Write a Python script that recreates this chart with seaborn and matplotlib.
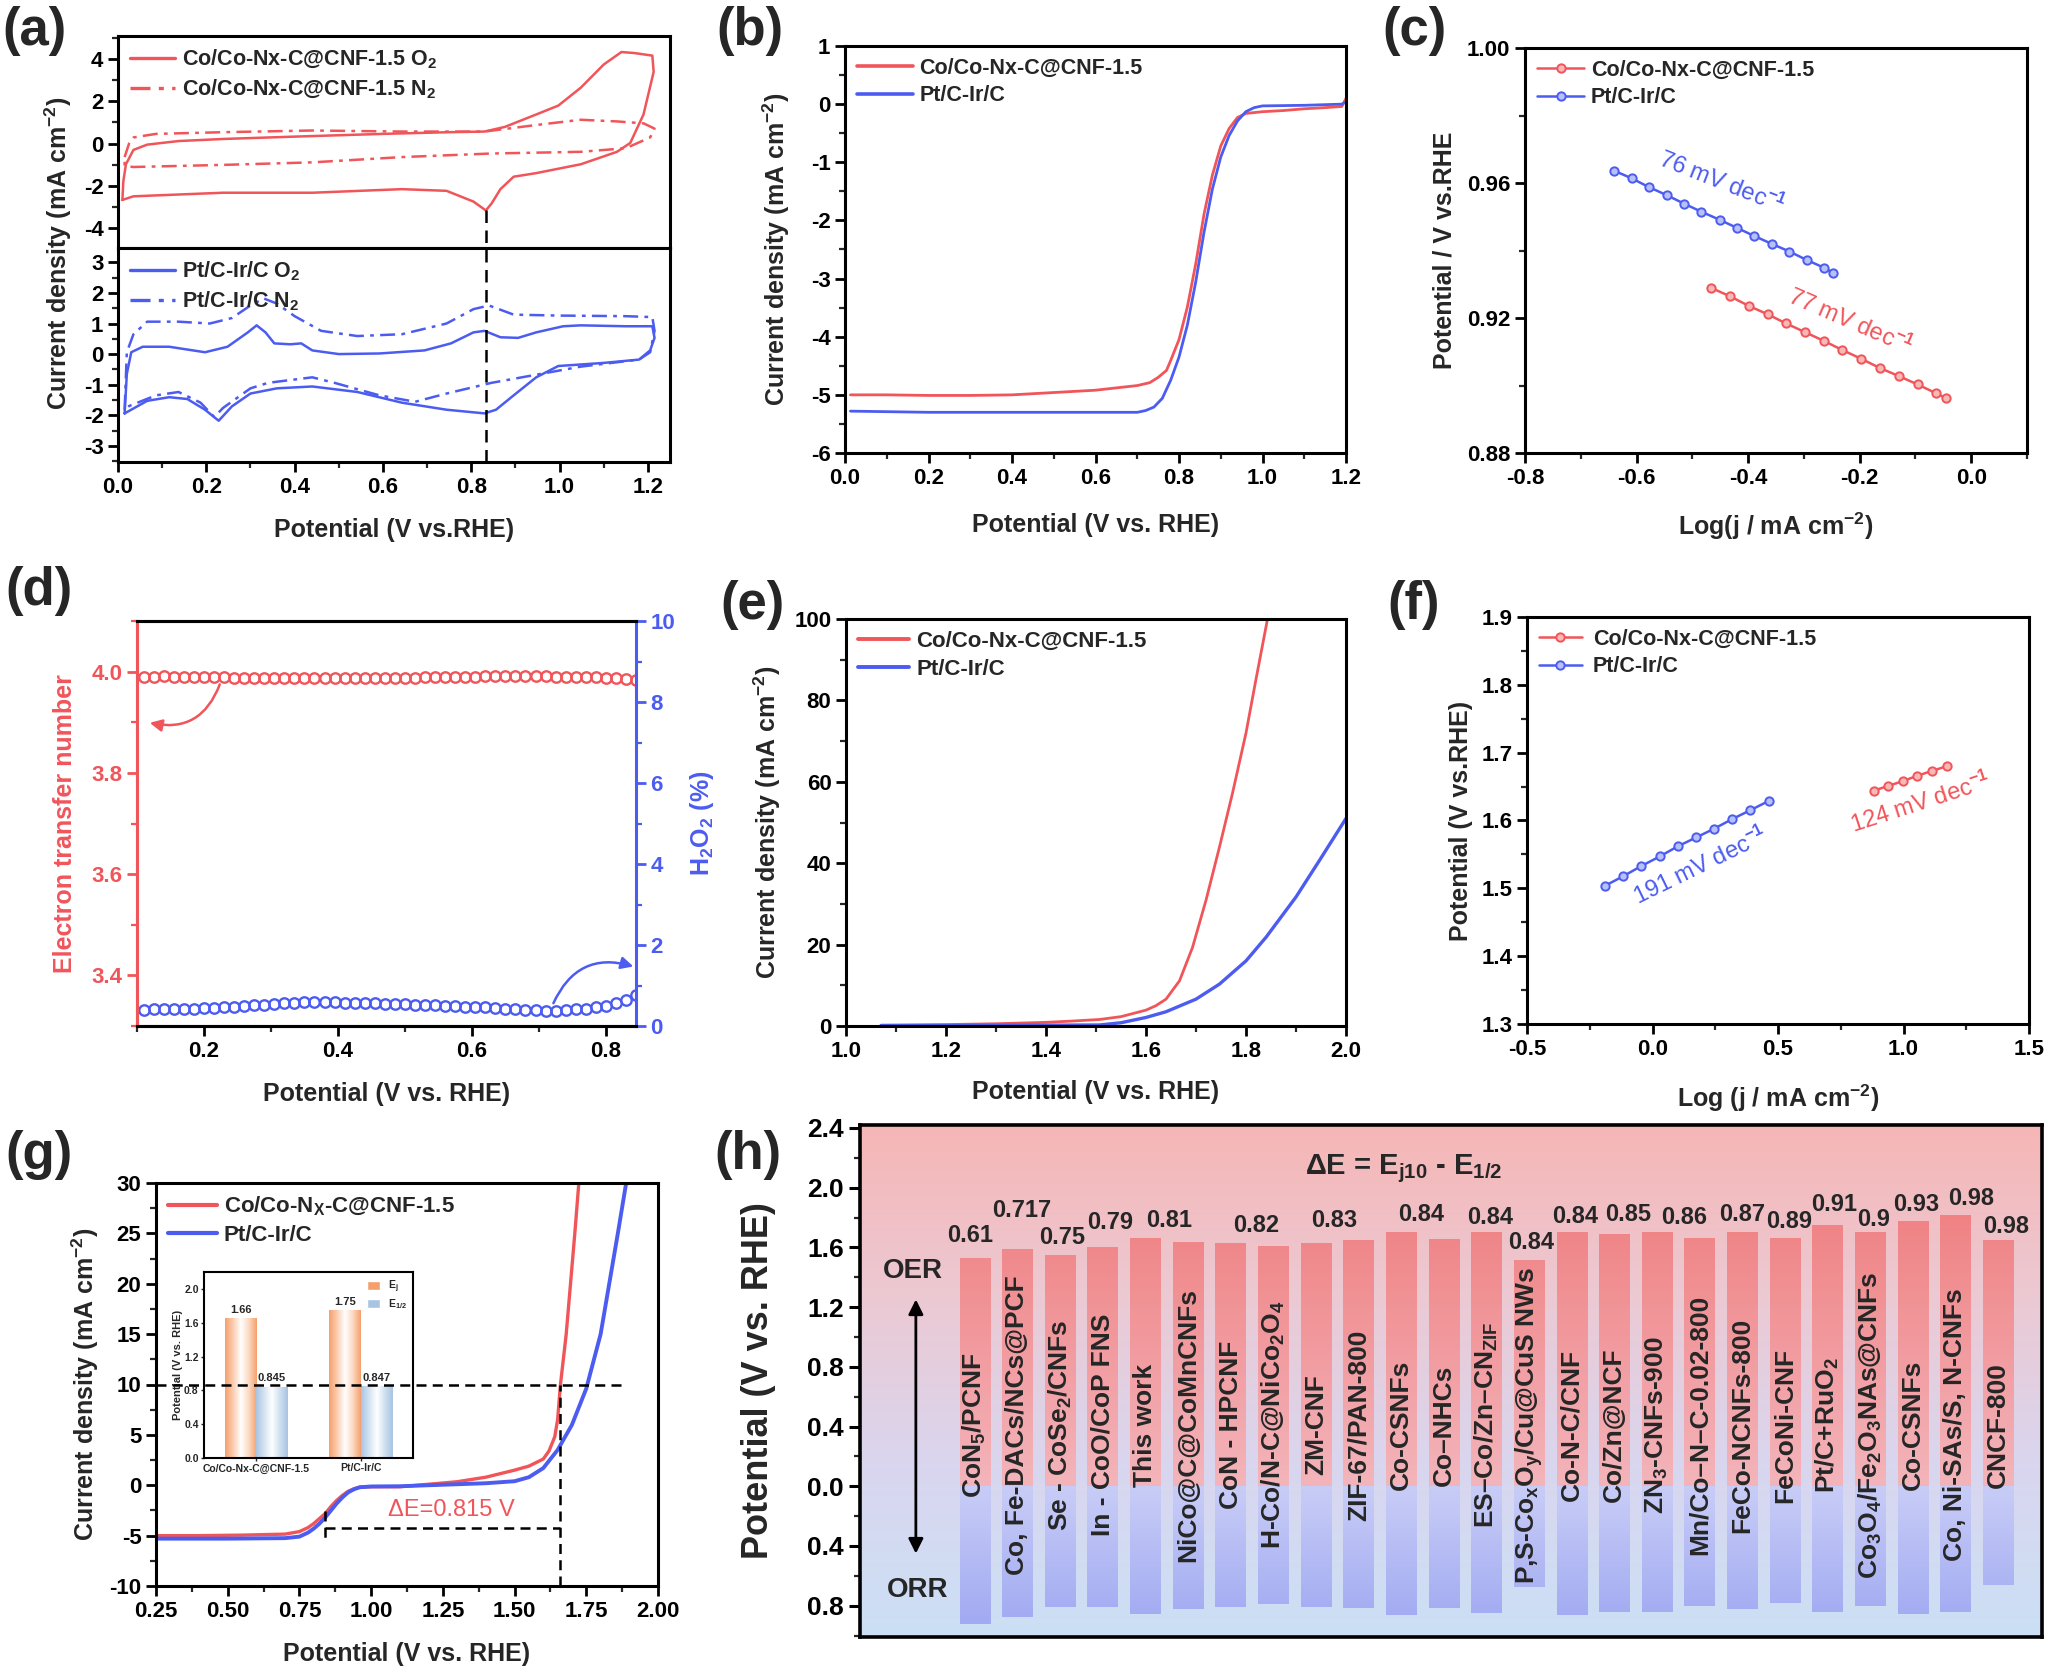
import matplotlib
matplotlib.use("Agg")
import matplotlib.pyplot as plt
import numpy as np
import seaborn as sns
from matplotlib.colors import LinearSegmentedColormap
from matplotlib.lines import Line2D
from matplotlib.patches import Patch
from matplotlib.ticker import MultipleLocator

RED = "#f0555a"
BLUE = "#4c5cf0"

# ---------------- (a) CV curves ----------------
a_co_o2_x = [0.010, 0.012, 0.018, 0.035, 0.066, 0.137, 0.24, 0.40, 0.60, 0.75, 0.83, 0.876, 0.947, 0.997,
             1.048, 1.10, 1.14, 1.17, 1.21, 1.213, 1.19, 1.16, 1.13, 1.048, 0.947, 0.896, 0.866, 0.846,
             0.833, 0.805, 0.744, 0.643, 0.44, 0.238, 0.035, 0.010]
a_co_o2_y = [-2.67, -1.8, -0.98, -0.30, -0.05, 0.12, 0.22, 0.33, 0.46, 0.54, 0.57, 0.79, 1.38, 1.8,
             2.65, 3.75, 4.34, 4.29, 4.17, 3.4, 1.38, 0.03, -0.39, -0.98, -1.4, -1.57, -2.16, -2.84,
             -3.17, -2.75, -2.24, -2.16, -2.33, -2.33, -2.5, -2.67]
a_co_n2_x = [0.015, 0.025, 0.035, 0.086, 0.238, 0.44, 0.643, 0.83, 0.947, 1.048, 1.13, 1.19, 1.215, 1.205,
             1.15, 1.048, 0.846, 0.643, 0.44, 0.238, 0.035, 0.015, 0.015]
a_co_n2_y = [-0.64, 0.0, 0.29, 0.46, 0.54, 0.62, 0.57, 0.57, 0.88, 1.13, 1.05, 0.96, 0.71, 0.29,
             -0.22, -0.39, -0.47, -0.64, -0.89, -1.01, -1.11, -1.06, -0.64]
a_pt_o2_x = [0.015, 0.02, 0.03, 0.056, 0.116, 0.197, 0.248, 0.294, 0.314, 0.334, 0.354, 0.39, 0.415, 0.44,
             0.5, 0.592, 0.694, 0.754, 0.805, 0.83, 0.866, 0.906, 0.947, 1.008, 1.048, 1.15, 1.21, 1.215,
             1.205, 1.18, 1.099, 0.997, 0.947, 0.896, 0.856, 0.83, 0.744, 0.643, 0.542, 0.44, 0.36, 0.30,
             0.258, 0.228, 0.197, 0.157, 0.116, 0.066, 0.015]
a_pt_o2_y = [-1.94, -0.65, 0.06, 0.24, 0.24, 0.06, 0.24, 0.71, 0.94, 0.71, 0.35, 0.32, 0.35, 0.12,
             0.0, 0.02, 0.12, 0.35, 0.71, 0.76, 0.55, 0.53, 0.71, 0.91, 0.94, 0.91, 0.91, 0.53,
             0.12, -0.18, -0.29, -0.39, -0.76, -1.35, -1.82, -1.94, -1.82, -1.59, -1.24, -1.06, -1.12, -1.29,
             -1.71, -2.18, -1.82, -1.47, -1.41, -1.53, -1.94]
a_pt_n2_x = [0.015, 0.02, 0.035, 0.066, 0.137, 0.208, 0.258, 0.30, 0.33, 0.36, 0.40, 0.46, 0.542, 0.643,
             0.744, 0.805, 0.84, 0.896, 0.997, 1.15, 1.21, 1.215, 1.205, 1.18, 1.048, 0.846, 0.744, 0.673,
             0.592, 0.49, 0.44, 0.34, 0.30, 0.238, 0.218, 0.187, 0.137, 0.086, 0.025, 0.015]
a_pt_n2_y = [-1.82, 0.06, 0.65, 1.06, 1.06, 1.0, 1.18, 1.59, 1.82, 1.65, 1.24, 0.76, 0.59, 0.65,
             1.0, 1.47, 1.59, 1.29, 1.26, 1.24, 1.21, 0.76, 0.06, -0.18, -0.41, -0.94, -1.29, -1.56,
             -1.35, -0.94, -0.76, -0.94, -1.12, -1.76, -2.06, -1.59, -1.24, -1.35, -1.7, -1.82]
a_peak_x = 0.833
a_peak_y = -3.17

# ---------------- (b) ORR LSV ----------------
b_co_x = [0.013, 0.1, 0.2, 0.3, 0.4, 0.5, 0.6, 0.65, 0.7, 0.73, 0.75, 0.77, 0.78, 0.8, 0.82, 0.84, 0.86,
          0.88, 0.9, 0.92, 0.94, 0.96, 1.0, 1.05, 1.1, 1.15, 1.19, 1.2]
b_co_y = [-5.0, -5.0, -5.01, -5.01, -5.0, -4.96, -4.92, -4.88, -4.84, -4.79, -4.70, -4.58, -4.41, -4.05,
          -3.49, -2.75, -1.89, -1.22, -0.72, -0.42, -0.23, -0.16, -0.13, -0.11, -0.08, -0.06, -0.04, 0.1]
b_pt_x = [0.013, 0.2, 0.4, 0.6, 0.7, 0.72, 0.74, 0.76, 0.78, 0.8, 0.82, 0.84, 0.86, 0.88, 0.9, 0.92,
          0.94, 0.96, 0.98, 1.0, 1.1, 1.19, 1.2]
b_pt_y = [-5.28, -5.30, -5.30, -5.30, -5.30, -5.27, -5.21, -5.06, -4.75, -4.35, -3.80, -3.06, -2.20,
          -1.46, -0.91, -0.54, -0.29, -0.13, -0.06, -0.03, -0.02, 0.0, 0.04]

# ---------------- (c) ORR Tafel ----------------
c_pt_x = [-0.641, -0.609, -0.578, -0.546, -0.515, -0.484, -0.451, -0.420, -0.389, -0.358, -0.326,
          -0.295, -0.264, -0.248]
c_pt_y = [0.9637, 0.9614, 0.9588, 0.9564, 0.9539, 0.9515, 0.9491, 0.9467, 0.9443, 0.9420, 0.9397,
          0.9372, 0.9349, 0.9334]
c_co_x = [-0.466, -0.432, -0.399, -0.365, -0.332, -0.298, -0.264, -0.231, -0.197, -0.164, -0.130,
          -0.096, -0.063, -0.046]
c_co_y = [0.9289, 0.9264, 0.9236, 0.9211, 0.9184, 0.9158, 0.9132, 0.9105, 0.9079, 0.9052, 0.9028,
          0.9003, 0.8977, 0.8963]

# ---------------- (d) RRDE ----------------
d_x = np.linspace(0.11, 0.845, 50)
d_n = [3.990, 3.990, 3.991, 3.990, 3.990, 3.990, 3.989, 3.989, 3.989, 3.988,
       3.988, 3.988, 3.987, 3.987, 3.987, 3.987, 3.987, 3.987, 3.987, 3.987,
       3.987, 3.987, 3.987, 3.988, 3.988, 3.988, 3.988, 3.988, 3.989, 3.989,
       3.989, 3.990, 3.990, 3.990, 3.991, 3.991, 3.991, 3.991, 3.991, 3.991,
       3.991, 3.990, 3.990, 3.990, 3.989, 3.989, 3.988, 3.987, 3.986, 3.984]
d_h2o2 = [0.40, 0.41, 0.41, 0.42, 0.43, 0.43, 0.44, 0.45, 0.46, 0.47,
          0.49, 0.51, 0.53, 0.55, 0.57, 0.58, 0.59, 0.59, 0.59, 0.59,
          0.58, 0.58, 0.57, 0.56, 0.55, 0.55, 0.54, 0.53, 0.52, 0.51,
          0.50, 0.49, 0.48, 0.47, 0.46, 0.44, 0.43, 0.42, 0.40, 0.39,
          0.38, 0.38, 0.39, 0.41, 0.43, 0.46, 0.50, 0.56, 0.64, 0.76]

# ---------------- (e) OER LSV ----------------
e_co_x = [1.07, 1.2, 1.3, 1.4, 1.45, 1.507, 1.55, 1.6, 1.62, 1.64, 1.667, 1.693, 1.72, 1.747, 1.773,
          1.80, 1.82, 1.843]
e_co_y = [0.2, 0.35, 0.55, 0.9, 1.2, 1.6, 2.3, 3.9, 5.0, 6.6, 11.1, 19.3, 30.9, 44, 57.2, 72, 85.2, 100]
e_pt_x = [1.07, 1.2, 1.3, 1.4, 1.507, 1.55, 1.6, 1.64, 1.7, 1.747, 1.8, 1.84, 1.9, 1.947, 2.0]
e_pt_y = [0.1, 0.12, 0.15, 0.2, 0.25, 0.8, 2.1, 3.5, 6.6, 10.3, 16, 21.8, 31.7, 40.7, 51]

# ---------------- (f) OER Tafel ----------------
f_pt_x = [-0.188, -0.116, -0.044, 0.029, 0.101, 0.174, 0.246, 0.317, 0.389, 0.464]
f_pt_y = [1.504, 1.518, 1.533, 1.547, 1.562, 1.575, 1.588, 1.602, 1.615, 1.629]
f_co_x = [0.882, 0.939, 0.997, 1.055, 1.113, 1.172]
f_co_y = [1.644, 1.651, 1.658, 1.666, 1.673, 1.680]

# ---------------- (g) bifunctional LSV ----------------
g_co_x = [0.25, 0.4, 0.55, 0.7, 0.75, 0.78, 0.8, 0.82, 0.84, 0.86, 0.88, 0.9, 0.92, 0.94, 0.96, 1.0,
          1.1, 1.2, 1.3, 1.4, 1.5, 1.55, 1.6, 1.62, 1.64, 1.65, 1.66, 1.68, 1.695, 1.71, 1.724]
g_co_y = [-5.0, -5.0, -4.95, -4.85, -4.6, -4.2, -3.8, -3.3, -2.8, -2.1, -1.5, -1.0, -0.6, -0.35, -0.2,
          -0.15, -0.15, 0.1, 0.35, 0.8, 1.5, 1.9, 2.6, 3.4, 4.8, 6.5, 10, 15, 20, 25, 30]
g_pt_x = [0.25, 0.5, 0.7, 0.75, 0.78, 0.8, 0.82, 0.84, 0.86, 0.88, 0.9, 0.92, 0.94, 0.96, 1.0, 1.1,
          1.2, 1.3, 1.4, 1.5, 1.55, 1.6, 1.65, 1.7, 1.75, 1.8, 1.83, 1.86, 1.889]
g_pt_y = [-5.3, -5.3, -5.25, -5.1, -4.7, -4.3, -3.8, -3.2, -2.5, -1.8, -1.2, -0.7, -0.4, -0.2, -0.12,
          -0.1, 0.0, 0.1, 0.2, 0.4, 0.8, 1.7, 3.5, 6.0, 9.6, 15, 20, 25, 30]
g_ej10 = 1.66
g_ehalf = 0.84
inset_groups = ["Co/Co-Nx-C@CNF-1.5", "Pt/C-Ir/C"]
inset_ej = [1.66, 1.75]
inset_ehalf = [0.845, 0.847]

# ---------------- (h) comparison ----------------
h_names = ["CoN$_5$/PCNF", "Co, Fe-DACs/NCs@PCF", "Se - CoSe$_2$/CNFs", "In - CoO/CoP FNS", "This work",
           "NiCo@C@CoMnCNFs", "CoN - HPCNF", "H-Co/N-C@NiCo$_2$O$_4$", "ZM-CNF", "ZIF-67/PAN-800",
           "Co-CSNFs", "Co–NHCs", "ES–Co/Zn–CN$_{ZIF}$", "P,S-Co$_x$O$_y$/Cu@CuS NWs", "Co-N-C/CNF",
           "Co/Zn@NCF", "ZN$_3$-CNFs-900", "Mn/Co–N–C-0.02-800", "FeCo-NCNFs-800", "FeCoNi-CNF",
           "Pt/C+RuO$_2$", "Co$_3$O$_4$/Fe$_2$O$_3$NAs@CNFs", "Co-CSNFs", "Co, Ni-SAs/S, N-CNFs", "CNCF-800"]
h_oer = [1.53, 1.59, 1.55, 1.605, 1.66, 1.634, 1.63, 1.61, 1.63, 1.65, 1.705, 1.654, 1.70, 1.515,
         1.705, 1.693, 1.70, 1.66, 1.70, 1.66, 1.75, 1.705, 1.78, 1.82, 1.65]
h_orr = [0.92, 0.876, 0.81, 0.81, 0.856, 0.82, 0.81, 0.79, 0.81, 0.815, 0.863, 0.815, 0.85, 0.673,
         0.863, 0.844, 0.844, 0.805, 0.82, 0.78, 0.844, 0.805, 0.856, 0.844, 0.66]
h_delta = ["0.61", "0.717", "0.75", "0.79", "0.81", "0.82", "0.83", "0.84", "0.84", "0.84", "0.84",
           "0.85", "0.86", "0.87", "0.89", "0.91", "0.9", "0.93", "0.98", "0.98"]
# layout of the delta labels (x in bar units, y in V)
h_delta_x = [-0.1, 1.1, 2.04, 3.18, 4.56, 6.6, 8.42, 10.46, 12.08, 13.04, 14.08, 15.32, 16.63, 18.0,
             19.09, 20.15, 21.08, 22.08, 23.36, 24.2]
h_delta_y = [1.68, 1.85, 1.665, 1.77, 1.78, 1.75, 1.78, 1.82, 1.80, 1.63, 1.81, 1.82, 1.80, 1.82,
             1.775, 1.885, 1.79, 1.89, 1.93, 1.74]

LABEL_FS = 18
TICK_FS = 16
LEG_FS = 15.5

sns.set_theme(style="ticks")
plt.rcParams["font.family"] = ["Liberation Sans", "DejaVu Sans"]
plt.rcParams["font.weight"] = "bold"
plt.rcParams["axes.labelweight"] = "bold"
plt.rcParams["axes.unicode_minus"] = False
plt.rcParams["mathtext.fontset"] = "custom"
plt.rcParams["mathtext.rm"] = "Liberation Sans:bold"
plt.rcParams["mathtext.it"] = "Liberation Sans:italic:bold"
plt.rcParams["mathtext.bf"] = "Liberation Sans:bold"
plt.rcParams["mathtext.default"] = "rm"

W, H = 2050, 1673
fig = plt.figure(figsize=(W / 100, H / 100), dpi=100)


def add_ax(l, t, r, b):
    return fig.add_axes([l / W, 1 - b / H, (r - l) / W, (b - t) / H])


def style(ax, xmaj=None, xmin=None, ymaj=None, ymin=None, sw=2.2):
    for s in ax.spines.values():
        s.set_linewidth(sw)
        s.set_color("black")
        s.set_visible(True)
    ax.tick_params(which="major", direction="out", length=7, width=2, labelsize=TICK_FS,
                   top=False, right=False, colors="black")
    ax.tick_params(which="minor", direction="out", length=4, width=1.6, top=False, right=False)
    if xmaj:
        ax.xaxis.set_major_locator(MultipleLocator(xmaj))
    if xmin:
        ax.xaxis.set_minor_locator(MultipleLocator(xmin))
    if ymaj:
        ax.yaxis.set_major_locator(MultipleLocator(ymaj))
    if ymin:
        ax.yaxis.set_minor_locator(MultipleLocator(ymin))
    for lab in ax.get_xticklabels() + ax.get_yticklabels():
        lab.set_fontweight("bold")
    ax.grid(False)


def line(ax, x, y, color, lw=2.0, dashdot=False, **kw):
    sns.lineplot(x=list(x), y=list(y), ax=ax, color=color, lw=lw, sort=False, estimator=None, **kw)
    ln = ax.lines[-1]
    if dashdot:
        ln.set_dashes([6, 2.5, 1.5, 2.5])
    return ln


def legend(ax, handles, labels, size=LEG_FS, hl=2.2, pad=0.3):
    ax.legend(handles, labels, loc="upper left", frameon=False, handlelength=hl, handletextpad=pad,
              borderaxespad=0.25, borderpad=0.3, labelspacing=0.3, prop={"weight": "bold", "size": size})


def panel_label(x, y, s):
    fig.text(x / W, 1 - y / H, s, fontsize=38, fontweight="bold", ha="left", va="top")


# ======== (a) ========
ax_at = add_ax(118, 36, 670, 248)
ax_ab = add_ax(118, 248, 670, 462)
line(ax_at, a_co_o2_x, a_co_o2_y, RED, lw=1.8)
line(ax_at, a_co_n2_x, a_co_n2_y, RED, lw=1.8, dashdot=True)
line(ax_ab, a_pt_o2_x, a_pt_o2_y, BLUE, lw=1.8)
line(ax_ab, a_pt_n2_x, a_pt_n2_y, BLUE, lw=1.8, dashdot=True)
for ax in (ax_at, ax_ab):
    ax.set_xlim(0, 1.25)
    style(ax, 0.2, 0.1)
    ax.set_xlabel("")
    ax.set_ylabel("")
ax_at.set_ylim(-4.95, 5.1)
ax_at.yaxis.set_major_locator(MultipleLocator(2))
ax_at.yaxis.set_minor_locator(MultipleLocator(1))
ax_at.tick_params(axis="x", which="both", bottom=False, labelbottom=False)
ax_ab.set_ylim(-3.53, 3.47)
ax_ab.yaxis.set_major_locator(MultipleLocator(1))
ax_ab.yaxis.set_minor_locator(MultipleLocator(0.5))
ax_at.plot([a_peak_x, a_peak_x], [a_peak_y, -4.95], color="black", lw=1.8, ls=(0, (5, 3)))
ax_ab.axvline(a_peak_x, color="black", lw=1.8, ls=(0, (5, 3)))
dd = [6, 2.5, 1.5, 2.5]
legend(ax_at, [Line2D([], [], color=RED, lw=2.4), Line2D([], [], color=RED, lw=2.4, dashes=dd)],
       ["Co/Co-Nx-C@CNF-1.5 O$_2$", "Co/Co-Nx-C@CNF-1.5 N$_2$"], hl=2.1)
legend(ax_ab, [Line2D([], [], color=BLUE, lw=2.4), Line2D([], [], color=BLUE, lw=2.4, dashes=dd)],
       ["Pt/C-Ir/C O$_2$", "Pt/C-Ir/C N$_2$"], hl=2.1)
ax_ab.set_xlabel("Potential (V vs.RHE)", fontsize=LABEL_FS, fontweight="bold")
ax_ab.xaxis.set_label_coords(0.5, -0.262)
fig.text(58 / W, 1 - 253 / H, "Current density (mA cm$^{-2}$)", rotation=90, ha="center", va="center",
         fontsize=LABEL_FS, fontweight="bold")

# ======== (b) ========
ax_b = add_ax(845, 46, 1346, 453)
line(ax_b, b_co_x, b_co_y, RED, lw=2.0)
line(ax_b, b_pt_x, b_pt_y, BLUE, lw=2.0)
ax_b.set_xlim(0, 1.2)
ax_b.set_ylim(-6, 1)
style(ax_b, 0.2, 0.1, 1, 0.5)
ax_b.set_xlabel("Potential (V vs. RHE)", fontsize=LABEL_FS, fontweight="bold")
ax_b.set_ylabel("Current density (mA cm$^{-2}$)", fontsize=LABEL_FS, fontweight="bold")
ax_b.xaxis.set_label_coords(0.5, -0.147)
ax_b.yaxis.set_label_coords(-0.106, 0.5)
legend(ax_b, [Line2D([], [], color=RED, lw=2.6), Line2D([], [], color=BLUE, lw=2.6)],
       ["Co/Co-Nx-C@CNF-1.5", "Pt/C-Ir/C"], hl=2.6)

# ======== (c) ========
ax_c = add_ax(1525, 48, 2027, 453)
mk = dict(marker="o", markersize=6, markeredgewidth=1.4)
line(ax_c, c_co_x, c_co_y, RED, lw=1.8, markerfacecolor="#f8b8b8", markeredgecolor=RED, **mk)
line(ax_c, c_pt_x, c_pt_y, BLUE, lw=1.8, markerfacecolor="#b8c0f8", markeredgecolor=BLUE, **mk)
ax_c.set_xlim(-0.8, 0.1)
ax_c.set_ylim(0.88, 1.00)
style(ax_c, 0.2, 0.1, 0.04, 0.02)
ax_c.yaxis.set_major_formatter(plt.FormatStrFormatter("%.2f"))
ax_c.set_xlabel("Log(j / mA cm$^{-2}$)", fontsize=LABEL_FS, fontweight="bold")
ax_c.set_ylabel("Potential / V vs.RHE", fontsize=LABEL_FS, fontweight="bold")
ax_c.xaxis.set_label_coords(0.5, -0.143)
ax_c.yaxis.set_label_coords(-0.137, 0.5)
ax_c.text(-0.448, 0.9603, "76 mV dec$^{-1}$", color=BLUE, fontsize=17, rotation=-21.5,
          ha="center", va="center", fontweight="normal")
ax_c.text(-0.218, 0.919, "77 mV dec$^{-1}$", color=RED, fontsize=17, rotation=-23.4,
          ha="center", va="center", fontweight="normal")
legend(ax_c, [Line2D([], [], color=RED, lw=1.8, markerfacecolor="#f8b8b8", markeredgecolor=RED, **mk),
              Line2D([], [], color=BLUE, lw=1.8, markerfacecolor="#b8c0f8", markeredgecolor=BLUE, **mk)],
       ["Co/Co-Nx-C@CNF-1.5", "Pt/C-Ir/C"], hl=2.2)

# ======== (d) ========
ax_d = add_ax(137, 621, 636, 1026)
ax_d2 = ax_d.twinx()
sns.lineplot(x=d_x, y=d_n, ax=ax_d, color=RED, linestyle="none", marker="o", markersize=7.5,
             markerfacecolor="none", markeredgecolor=RED, markeredgewidth=1.7, estimator=None)
sns.lineplot(x=d_x, y=d_h2o2, ax=ax_d2, color=BLUE, linestyle="none", marker="o", markersize=7.5,
             markerfacecolor="none", markeredgecolor=BLUE, markeredgewidth=1.7, estimator=None)
ax_d.set_xlim(0.1, 0.845)
ax_d.set_ylim(3.3, 4.1)
ax_d2.set_ylim(0, 10)
style(ax_d, 0.2, 0.1, 0.2, 0.1)
for s in ax_d2.spines.values():
    s.set_linewidth(2.2)
ax_d.spines["left"].set_color(RED)
ax_d2.spines["left"].set_color(RED)
ax_d2.spines["right"].set_color(BLUE)
ax_d2.spines["top"].set_color("black")
ax_d2.spines["bottom"].set_color("black")
ax_d.spines["right"].set_visible(False)
ax_d.tick_params(axis="y", which="both", colors=RED)
ax_d.yaxis.set_major_formatter(plt.FormatStrFormatter("%.1f"))
ax_d2.yaxis.set_major_locator(MultipleLocator(2))
ax_d2.yaxis.set_minor_locator(MultipleLocator(1))
ax_d2.tick_params(axis="y", which="major", direction="out", length=7, width=2, labelsize=TICK_FS,
                  colors=BLUE)
ax_d2.tick_params(axis="y", which="minor", direction="out", length=4, width=1.6, colors=BLUE)
for lab in ax_d2.get_yticklabels():
    lab.set_fontweight("bold")
ax_d2.grid(False)
ax_d.set_xlabel("Potential (V vs. RHE)", fontsize=LABEL_FS, fontweight="bold")
ax_d.set_ylabel("Electron transfer number", fontsize=LABEL_FS, fontweight="bold", color=RED)
ax_d2.set_ylabel("H$_2$O$_2$ (%)", fontsize=LABEL_FS, fontweight="bold", color=BLUE)
ax_d.xaxis.set_label_coords(0.5, -0.138)
ax_d.yaxis.set_label_coords(-0.12, 0.5)
ax_d2.yaxis.set_label_coords(1.104, 0.5)
ax_d.annotate("", xy=(0.115, 3.9), xytext=(0.225, 3.98),
              arrowprops=dict(arrowstyle="-|>", color=RED, lw=1.8, mutation_scale=18,
                              connectionstyle="arc3,rad=-0.45"))
ax_d2.annotate("", xy=(0.845, 1.45), xytext=(0.72, 0.5),
               arrowprops=dict(arrowstyle="-|>", color=BLUE, lw=1.8, mutation_scale=18,
                               connectionstyle="arc3,rad=-0.45"))

# ======== (e) ========
ax_e = add_ax(846, 619, 1346, 1026)
line(ax_e, e_co_x, e_co_y, RED, lw=2.0)
line(ax_e, e_pt_x, e_pt_y, BLUE, lw=2.4)
ax_e.set_xlim(1.0, 2.0)
ax_e.set_ylim(0, 100)
style(ax_e, 0.2, 0.1, 20, 10)
ax_e.set_xlabel("Potential (V vs. RHE)", fontsize=LABEL_FS, fontweight="bold")
ax_e.set_ylabel("Current density (mA cm$^{-2}$)", fontsize=LABEL_FS, fontweight="bold")
ax_e.xaxis.set_label_coords(0.5, -0.133)
ax_e.yaxis.set_label_coords(-0.126, 0.5)
legend(ax_e, [Line2D([], [], color=RED, lw=2.8), Line2D([], [], color=BLUE, lw=2.8)],
       ["Co/Co-Nx-C@CNF-1.5", "Pt/C-Ir/C"], size=16, hl=2.3)

# ======== (f) ========
ax_f = add_ax(1527, 617, 2029, 1024)
line(ax_f, f_co_x, f_co_y, RED, lw=1.8, markerfacecolor="#f8b8b8", markeredgecolor=RED, **mk)
line(ax_f, f_pt_x, f_pt_y, BLUE, lw=1.8, markerfacecolor="#b8c0f8", markeredgecolor=BLUE, **mk)
ax_f.set_xlim(-0.5, 1.5)
ax_f.set_ylim(1.3, 1.9)
style(ax_f, 0.5, 0.25, 0.1, 0.05)
ax_f.set_xlabel("Log (j / mA cm$^{-2}$)", fontsize=LABEL_FS, fontweight="bold")
ax_f.set_ylabel("Potential (V vs.RHE)", fontsize=LABEL_FS, fontweight="bold")
ax_f.xaxis.set_label_coords(0.5, -0.143)
ax_f.yaxis.set_label_coords(-0.108, 0.5)
ax_f.text(0.191, 1.532, "191 mV dec$^{-1}$", color=BLUE, fontsize=17, rotation=26,
          ha="center", va="center", fontweight="normal")
ax_f.text(1.07, 1.626, "124 mV dec$^{-1}$", color=RED, fontsize=17, rotation=18,
          ha="center", va="center", fontweight="normal")
legend(ax_f, [Line2D([], [], color=RED, lw=1.8, markerfacecolor="#f8b8b8", markeredgecolor=RED, **mk),
              Line2D([], [], color=BLUE, lw=1.8, markerfacecolor="#b8c0f8", markeredgecolor=BLUE, **mk)],
       ["Co/Co-Nx-C@CNF-1.5", "Pt/C-Ir/C"], hl=2.0, pad=0.5)

# ======== (g) ========
ax_g = add_ax(156, 1183, 658, 1586)
line(ax_g, g_co_x, g_co_y, RED, lw=2.4)
line(ax_g, g_pt_x, g_pt_y, BLUE, lw=2.8)
ax_g.set_xlim(0.25, 2.0)
ax_g.set_ylim(-10, 30)
style(ax_g, 0.25, 0.125, 5, 2.5)
ax_g.xaxis.set_major_formatter(plt.FormatStrFormatter("%.2f"))
ax_g.set_xlabel("Potential (V vs. RHE)", fontsize=LABEL_FS, fontweight="bold")
ax_g.set_ylabel("Current density (mA cm$^{-2}$)", fontsize=LABEL_FS, fontweight="bold")
ax_g.xaxis.set_label_coords(0.5, -0.139)
ax_g.yaxis.set_label_coords(-0.11, 0.5)
dash = dict(color="black", lw=1.8, ls=(0, (4, 2.5)), zorder=6)
ax_g.plot([0.25, 1.878], [10, 10], **dash)
ax_g.plot([g_ej10, g_ej10], [-10, 10], **dash)
ax_g.plot([g_ehalf, g_ej10], [-4.2, -4.2], **dash)
ax_g.plot([g_ehalf, g_ehalf], [-2.6, -5.6], **dash)
ax_g.text(1.278, -2.45, "ΔE=0.815 V", color=RED, fontsize=17, ha="center", va="center",
          fontweight="normal")
legend(ax_g, [Line2D([], [], color=RED, lw=3), Line2D([], [], color=BLUE, lw=3)],
       ["Co/Co-N$_X$-C@CNF-1.5", "Pt/C-Ir/C"], size=16, hl=2.2)

axi = ax_g.inset_axes([0.096, 0.318, 0.416, 0.46])
gx = np.arange(len(inset_groups))
bw = 0.3
bars_j = axi.bar(gx - bw / 2, inset_ej, bw, color="none", edgecolor="none")
bars_h = axi.bar(gx + bw / 2, inset_ehalf, bw, color="none", edgecolor="none")
hgrad = np.linspace(0, 1, 128).reshape(1, -1)
cm_or = LinearSegmentedColormap.from_list("or", ["#f5a06c", "#fbcdb0", "#ffffff", "#fcd9c2", "#f5a06c"])
cm_bl = LinearSegmentedColormap.from_list("bl", ["#a8c4e2", "#d4e3f1", "#ffffff", "#cfe0f0", "#a8c4e2"])
for bars, cmap in ((bars_j, cm_or), (bars_h, cm_bl)):
    for p in bars.patches:
        im = axi.imshow(hgrad, extent=[p.get_x(), p.get_x() + p.get_width(), 0, p.get_height()],
                        cmap=cmap, aspect="auto", zorder=2)
        im.set_clip_path(p)
for xi, v in zip(gx - bw / 2, inset_ej):
    axi.text(xi, v + 0.04, f"{v:.2f}", ha="center", va="bottom", fontsize=8)
for xi, v in zip(gx + bw / 2, inset_ehalf):
    axi.text(xi, v + 0.04, f"{v:.3f}", ha="center", va="bottom", fontsize=8)
axi.set_xlim(-0.5, 1.5)
axi.set_ylim(0, 2.2)
axi.set_xticks(gx)
axi.set_xticklabels(inset_groups, fontsize=8, fontweight="bold")
axi.set_yticks([0.0, 0.4, 0.8, 1.2, 1.6, 2.0])
axi.yaxis.set_major_formatter(plt.FormatStrFormatter("%.1f"))
axi.tick_params(labelsize=7.5, length=2.5, width=1, direction="out", pad=1.5)
for lab in axi.get_xticklabels() + axi.get_yticklabels():
    lab.set_fontweight("bold")
for s in axi.spines.values():
    s.set_linewidth(1.5)
    s.set_color("black")
axi.set_ylabel("Potential (V vs. RHE)", fontsize=8, labelpad=1)
axi.legend([Patch(facecolor="#f5a06c"), Patch(facecolor="#a8c4e2")], ["E$_j$", "E$_{1/2}$"],
           loc="upper right", frameon=False, handlelength=1.2, handleheight=0.9, borderaxespad=0.2,
           labelspacing=0.2, prop={"weight": "bold", "size": 7.5})
axi.grid(False)

# ======== (h) ========
ax_h = add_ax(860, 1125, 2042, 1637)
hx = np.arange(len(h_names))
xlo, xhi, ylo, yhi = -2.69, 25.03, -1.01, 2.42
bg = LinearSegmentedColormap.from_list("bg", ["#cbe0f5", "#d9d6ef", "#ecc9d3", "#f6b6b6"])
vgrad = np.linspace(0, 1, 256).reshape(-1, 1)
ax_h.imshow(vgrad, extent=[xlo, xhi, ylo, yhi], origin="lower", cmap=bg, aspect="auto", zorder=0)
cm_oer = LinearSegmentedColormap.from_list("oer", ["#f5b3b8", "#f07e80"])
cm_orr = LinearSegmentedColormap.from_list("orr", ["#9ea6f2", "#c8cdf8"])
bw = 0.71
oer_bars = ax_h.bar(hx, h_oer, bw, color="none", edgecolor="none", zorder=1)
orr_bars = ax_h.bar(hx, [-v for v in h_orr], bw, color="none", edgecolor="none", zorder=1)
for p in oer_bars.patches:
    im = ax_h.imshow(vgrad, extent=[p.get_x(), p.get_x() + bw, 0, 1.85], origin="lower", cmap=cm_oer,
                     aspect="auto", zorder=1, alpha=0.95)
    im.set_clip_path(p)
for p in orr_bars.patches:
    im = ax_h.imshow(vgrad, extent=[p.get_x(), p.get_x() + bw, -0.95, 0], origin="lower", cmap=cm_orr,
                     aspect="auto", zorder=1, alpha=0.95)
    im.set_clip_path(p)
for xi, name in zip(hx, h_names):
    ax_h.text(xi, 0.41, name, rotation=90, ha="center", va="center", fontsize=19, fontweight="bold",
              zorder=3)
for xi, yi, s in zip(h_delta_x, h_delta_y, h_delta):
    ax_h.text(xi, yi, s, ha="center", va="center", fontsize=17, fontweight="bold", zorder=3)
ax_h.set_xlim(xlo, xhi)
ax_h.set_ylim(ylo, yhi)
style(ax_h, None, None, 0.4, 0.2, sw=2.6)
ax_h.set_xticks([])
ax_h.tick_params(axis="y", which="major", labelsize=19, length=8, width=2.2)
ax_h.set_yticks([-0.8, -0.4, 0.0, 0.4, 0.8, 1.2, 1.6, 2.0, 2.4])
ax_h.set_yticklabels([f"{abs(v):.1f}" for v in [-0.8, -0.4, 0.0, 0.4, 0.8, 1.2, 1.6, 2.0, 2.4]],
                     fontweight="bold", fontsize=19)
ax_h.set_ylabel("Potential (V vs. RHE)", fontsize=26, fontweight="bold")
ax_h.yaxis.set_label_coords(-0.071, 0.5)
ax_h.text(10.06, 2.13, "ΔE = E$_{j10}$ - E$_{1/2}$", ha="center", va="center", fontsize=21,
          fontweight="bold", zorder=3)
ax_h.text(-1.44, 1.445, "OER", ha="center", va="center", fontsize=20, fontweight="bold", zorder=3)
ax_h.text(-1.35, -0.695, "ORR", ha="center", va="center", fontsize=20, fontweight="bold", zorder=3)
ax_h.annotate("", xy=(-1.38, -0.47), xytext=(-1.38, 1.27),
              arrowprops=dict(arrowstyle="<|-|>", color="black", lw=2, mutation_scale=22), zorder=3)

# panel labels
panel_label(2, 6, "(a)")
panel_label(716, 6, "(b)")
panel_label(1382, 6, "(c)")
panel_label(5, 566, "(d)")
panel_label(720, 580, "(e)")
panel_label(1387, 580, "(f)")
panel_label(5, 1130, "(g)")
panel_label(714, 1130, "(h)")

fig.savefig("out.png", dpi=100)
